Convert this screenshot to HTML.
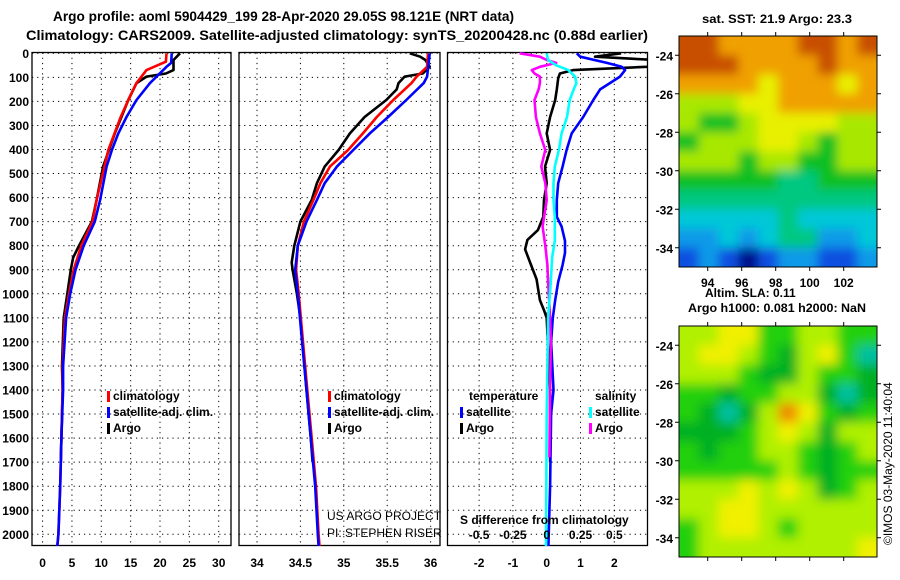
<!DOCTYPE html>
<html><head><meta charset="utf-8"><style>
html,body{margin:0;padding:0;background:#fff;}
svg{display:block;font-family:"Liberation Sans",Arial,sans-serif;}
.t{font-weight:bold;font-size:14px;}
.l{font-weight:bold;font-size:12px;}
</style></head><body>
<svg id="c" width="900" height="580" viewBox="0 0 900 580">
<text class="t" x="53" y="21" textLength="461" lengthAdjust="spacingAndGlyphs">Argo profile: aoml 5904429_199 28-Apr-2020 29.05S 98.121E (NRT data)</text>
<text class="t" x="26" y="40" textLength="622" lengthAdjust="spacingAndGlyphs">Climatology: CARS2009. Satellite-adjusted climatology: synTS_20200428.nc (0.88d earlier)</text>
<text class="l" x="702" y="23" textLength="150" lengthAdjust="spacingAndGlyphs">sat. SST: 21.9 Argo: 23.3</text>
<text class="l" x="705" y="297">Altim. SLA: 0.11</text>
<text class="l" x="688" y="312" textLength="178" lengthAdjust="spacingAndGlyphs">Argo h1000: 0.081 h2000: NaN</text>
<text x="892" y="545" font-size="12" transform="rotate(-90 892 545)">©IMOS 03-May-2020 11:40:04</text>
<defs>
<filter id="bs" x="-5%" y="-5%" width="110%" height="110%"><feGaussianBlur stdDeviation="5"/></filter>
<filter id="bl" x="-5%" y="-5%" width="110%" height="110%"><feGaussianBlur stdDeviation="5.5"/></filter>
<clipPath id="c1"><rect x="679" y="36" width="198" height="231"/></clipPath>
<clipPath id="c2"><rect x="679" y="326" width="198" height="231"/></clipPath>
</defs>
<g id="g"></g>
</svg>
<script>
// depth axis
const depthTicks=[0,100,200,300,400,500,600,700,800,900,1000,1100,1200,1300,1400,1500,1600,1700,1800,1900,2000];
// panel 1: temperature
const tempTicks=[0,5,10,15,20,25,30];
const tClimD=[0,35,70,124,194,265,402,610,700,800,900,1000,1100,1300,1400,1600,1800,2000,2050];
const tClimV=[21.1,21.0,17.7,16.0,14.6,13.3,11.2,9.2,8.5,6.6,5.3,4.5,3.8,3.4,3.4,3.2,3.0,2.7,2.5];
const tSatD=[0,40,56,124,194,265,333,402,471,610,700,800,900,1000,1100,1300,1400,1600,1800,2000,2050];
const tSatV=[22.0,21.9,21.1,18.3,16.0,14.3,12.9,11.8,10.9,9.8,8.9,7.0,5.6,4.7,4.0,3.5,3.5,3.2,3.0,2.7,2.5];
const tArgoD=[0,28,70,84,97,124,194,333,471,610,700,800,850,900,1000,1100,1300,1400,1600,1700];
const tArgoV=[23.4,22.3,22.3,21.0,17.7,16.0,14.6,12.3,10.3,9.2,8.4,6.2,5.2,4.8,4.2,3.6,3.3,3.4,3.2,3.1];
// panel 2: salinity
const salTicks=[34,34.5,35,35.5,36];
const sClimD=[0,56,97,124,194,265,333,402,471,540,610,700,800,900,1000,1200,1400,1600,1800,2000,2050];
const sClimV=[35.97,35.96,35.84,35.78,35.57,35.38,35.22,35.05,34.84,34.73,34.65,34.54,34.47,34.45,34.48,34.53,34.58,34.63,34.68,34.71,34.72];
const sSatD=[0,97,124,194,265,333,402,471,540,610,700,800,900,1000,1200,1400,1600,1800,2000,2050];
const sSatV=[35.99,35.96,35.92,35.72,35.51,35.30,35.11,34.92,34.78,34.69,34.57,34.47,34.44,34.47,34.52,34.57,34.62,34.67,34.70,34.71];
const sArgoD=[0,14,28,56,84,97,124,150,194,265,333,402,471,540,610,700,800,870,900,1000,1100,1400,1600,1700];
const sArgoV=[35.76,35.88,35.94,35.99,35.91,35.70,35.63,35.61,35.49,35.24,35.07,34.94,34.78,34.69,34.63,34.50,34.43,34.40,34.41,34.46,34.50,34.57,34.62,34.64];
// panel 3: differences
const dTTicks=[-2,-1,0,1,2];
const dSTicks=[-0.5,-0.25,0,0.25,0.5];
const dTSatD=[0,14,40,56,70,97,124,150,194,265,333,402,471,540,610,680,720,780,830,880,950,1026,1100,1200,1400,1500,1800,2050];
const dTSatV=[0.89,0.99,1.78,2.22,2.32,2.17,1.87,1.58,1.38,1.08,0.74,0.59,0.47,0.34,0.30,0.30,0.44,0.54,0.54,0.47,0.34,0.25,0.18,0.13,0.20,0.13,0.10,0.05];
const dTArgoD=[0,14,28,50,56,70,84,104,150,194,265,333,402,471,540,610,680,735,776,815,870,940,1026,1068,1100,1400,1700];
const dTArgoV=[2.2,1.43,3.2,3.2,2.96,0.78,0.39,0.34,0.30,0.25,0.10,0.0,0.10,-0.05,0.0,-0.08,-0.10,-0.26,-0.57,-0.64,-0.49,-0.30,-0.20,-0.08,0.0,0.1,0.1];
const dSSatD=[0,28,50,70,97,124,150,194,265,333,402,471,540,610,680,780,850,950,1100,1500,2050];
const dSSatV=[0.0,0.01,0.07,0.16,0.21,0.22,0.20,0.17,0.15,0.11,0.09,0.06,0.05,0.05,0.06,0.06,0.04,0.03,0.01,0.0,-0.005];
const dSArgoD=[0,14,28,40,56,70,84,97,124,150,194,265,333,402,471,540,610,720,800,880,950,1100,1200,1400,1680];
const dSArgoV=[-0.2,-0.05,0.0,0.07,-0.05,-0.11,-0.09,-0.05,-0.05,-0.06,-0.09,-0.08,-0.05,-0.01,-0.04,-0.01,0.0,-0.03,-0.01,0.005,0.01,0.025,0.03,0.025,0.02];
// maps
const lonTicks=[94,96,98,100,102];
const latTicks=[-24,-26,-28,-30,-32,-34];
const sstGrid=[
[9,9,8,8,8,8,9,9,8,9],[9,9,9,8,8,8,8,9,8,8],[8,8,8,8,7,8,8,8,7,8],[6,6,6,7,7,8,8,8,8,8],
[6,5,5,6,7,7,7,7,6,6],[5,6,6,6,7,7,6,5,6,6],[6,6,6,5,6,6,5,5,6,6],[5,5,5,5,5,4,4,5,5,5],
[4,4,4,4,4,4,4,4,4,4],[3,3,3,3,3,4,3,3,3,3],[2,2,3,2,3,4,4,2,2,3],[1,2,1,0,1,2,2,1,1,2]];
const slaGrid=[
[3,3,4,4,2,2,3,3,2,2],[3,4,4,3,2,1,3,4,2,0],[3,3,3,2,1,1,3,2,2,1],[2,2,1,2,2,3,3,1,0,1],
[2,1,0,1,3,5,4,2,1,2],[1,1,1,2,3,4,3,1,3,3],[2,1,2,2,3,3,2,1,2,3],[2,2,2,2,2,3,2,1,2,2],
[3,3,3,4,3,4,3,1,2,3],[3,3,4,4,3,3,3,3,3,3],[2,3,4,4,3,2,3,3,3,3],[2,3,3,3,3,3,3,3,3,4]];
const sstColors=["#00108a","#0a4fe0","#0a9ae8","#00c8d8","#00c880","#10c020","#a8e800","#e8f000","#f0a000","#c85000"];
const slaColors=["#00c0a0","#00b020","#20d010","#b0f000","#f0f000","#f08800"];

const NS="http://www.w3.org/2000/svg";
const G=document.getElementById('g');
function mk(t,a,p){const e=document.createElementNS(NS,t);for(const k in a)e.setAttribute(k,a[k]);(p||G).appendChild(e);return e;}
const yD=d=>53.3+d*0.2405;
const Y0=52.5,Y1=545.5;
const panels=[
 {x0:32,x1:231,f:v=>42.6+v*5.87,ticks:tempTicks,name:'temperature'},
 {x0:239,x1:440,f:v=>257+(v-34)*86.8,ticks:salTicks,name:'salinity'},
 {x0:447.5,x1:647.5,f:v=>546.7+v*33.8,ticks:dTTicks,name:'difference'}];
const fS=v=>546.7+v*135.2;
panels.forEach((p,i)=>{
 const b=mk('rect',{x:p.x0,y:Y0,width:p.x1-p.x0,height:Y1-Y0,fill:'none',stroke:'#000','stroke-width':1.3});
 
 
 depthTicks.forEach(d=>{
  const l=mk('line',{x1:p.x0,x2:p.x1,y1:yD(d),y2:yD(d),stroke:'#000','stroke-dasharray':'1.2,4','stroke-width':1});
  
  
 });
 p.ticks.forEach(v=>{
  const x=p.f(v);
  const l=mk('line',{x1:x,x2:x,y1:Y0,y2:Y1,stroke:'#000','stroke-dasharray':'1.2,4','stroke-width':1});
  
  
  const t=mk('text',{x:x,y:567,'text-anchor':'middle',class:'l'});
  t.textContent=String(v);
  
  
 });
});
depthTicks.forEach(d=>{
 const t=mk('text',{x:29,y:yD(d)+4.5,'text-anchor':'end',class:'l'});
 t.textContent=String(d);
 
 
});
const cp=mk('clipPath',{id:'p3'});mk('rect',{x:447.5,y:52,width:200,height:494},cp);
const cp1=mk('clipPath',{id:'p1'});mk('rect',{x:32,y:52,width:199,height:494},cp1);
const cp2=mk('clipPath',{id:'p2'});mk('rect',{x:239,y:52,width:201,height:494},cp2);
const g1=mk('g',{'clip-path':'url(#p1)'}),g2=mk('g',{'clip-path':'url(#p2)'}),g3=mk('g',{'clip-path':'url(#p3)'});
function lineIn(g,D,V,f,col,name){
 const pts=D.map((d,i)=>f(V[i]).toFixed(1)+','+yD(d).toFixed(1)).join(' ');
 const e=mk('polyline',{points:pts,fill:'none',stroke:col,'stroke-width':2.6,'stroke-linejoin':'round'},g);
 
 }
lineIn(g1,tArgoD,tArgoV,panels[0].f,'#000','temp-argo-line');
lineIn(g1,tClimD,tClimV,panels[0].f,'#f00','temp-climatology-line');
lineIn(g1,tSatD,tSatV,panels[0].f,'#00f','temp-satellite-line');
lineIn(g2,sArgoD,sArgoV,panels[1].f,'#000','sal-argo-line');
lineIn(g2,sClimD,sClimV,panels[1].f,'#f00','sal-climatology-line');
lineIn(g2,sSatD,sSatV,panels[1].f,'#00f','sal-satellite-line');
lineIn(g3,dTArgoD,dTArgoV,panels[2].f,'#000','dT-argo-line');
lineIn(g3,dTSatD,dTSatV,panels[2].f,'#00f','dT-satellite-line');
lineIn(g3,dSArgoD,dSArgoV,fS,'#f0f','dS-argo-line');
lineIn(g3,dSSatD,dSSatV,fS,'#0ff','dS-satellite-line');
function leg(x,y,col,txt,name){
 const r=mk('rect',{x:x,y:y-9,width:3,height:11,fill:col});
 
 
 const t=mk('text',{x:x+6,y:y,class:'l'});t.textContent=txt;
 
 
}
[[107,'p1'],[328,'p2']].forEach(([x,n])=>{
 leg(x,400,'#f00','climatology',n+'-legend-climatology');
 leg(x,416,'#00f','satellite-adj. clim.',n+'-legend-satellite');
 leg(x,432,'#000','Argo',n+'-legend-argo');
});
leg(460,416,'#00f','satellite','dT-legend-satellite');
leg(460,432,'#000','Argo','dT-legend-argo');
leg(589,416,'#0ff','satellite','dS-legend-satellite');
leg(589,432,'#f0f','Argo','dS-legend-argo');
let t;
t=mk('text',{x:469,y:400,class:'l'});t.textContent='temperature';


t=mk('text',{x:595,y:400,class:'l'});t.textContent='salinity';


t=mk('text',{x:460,y:524,class:'l'});t.textContent='S difference from climatology';


dSTicks.forEach(v=>{const e=mk('text',{x:fS(v),y:539,'text-anchor':'middle',class:'l'});e.textContent=String(v);
 
 });
t=mk('text',{x:327,y:520,'font-size':'12'});t.textContent='US ARGO PROJECT';


t=mk('text',{x:327,y:537,'font-size':'12'});t.textContent='PI: STEPHEN RISER';


function map(grid,cols,y0,y1,filt,clip,name,lonLabels){
 const x0=679,x1=877,nr=grid.length,nc=grid[0].length,cw=(x1-x0)/nc,ch=(y1-y0)/nr;
 const gc=mk('g',{'clip-path':'url(#'+clip+')'});
 const g=mk('g',{filter:'url(#'+filt+')'},gc);
 
 
 grid.forEach((row,r)=>row.forEach((v,c)=>{
  // extend edge cells outward so blur doesn't fade at borders
  const ex=c===0?-12:0,ey=r===0?-12:0,ew=(c===nc-1?12:0)-ex,eh=(r===nr-1?12:0)-ey;
  const e=mk('rect',{x:x0+c*cw+ex,y:y0+r*ch+ey,width:cw+0.6+ew,height:ch+0.6+eh,fill:cols[v]},g);
  
  
 }));
 const f=mk('rect',{x:x0,y:y0,width:x1-x0,height:y1-y0,fill:'none',stroke:'#000','stroke-width':1});
 
 
 latTicks.forEach(v=>{const y=y0+(-(v)-23)*((y1-y0)/12);
  mk('line',{x1:x0-4,x2:x0,y1:y,y2:y,stroke:'#000'});mk('line',{x1:x1,x2:x1+4,y1:y,y2:y,stroke:'#000'});
  const e=mk('text',{x:x0-6,y:y+5,'text-anchor':'end',class:'l'});e.textContent=String(v);
  
  });
 lonTicks.forEach(v=>{const x=707.7+(v-94)*17;
  mk('line',{x1:x,x2:x,y1:y0-4,y2:y0,stroke:'#000'});mk('line',{x1:x,x2:x,y1:y1,y2:y1+4,stroke:'#000'});
  if(lonLabels){const e=mk('text',{x:x,y:y1+20,'text-anchor':'middle',class:'l'});e.textContent=String(v);
  
  }});
}
map(sstGrid,sstColors,36,267,'bs','c1','sst-map',true);
map(slaGrid,slaColors,326,557,'bl','c2','sla-map',false);
</script>
</body></html>
